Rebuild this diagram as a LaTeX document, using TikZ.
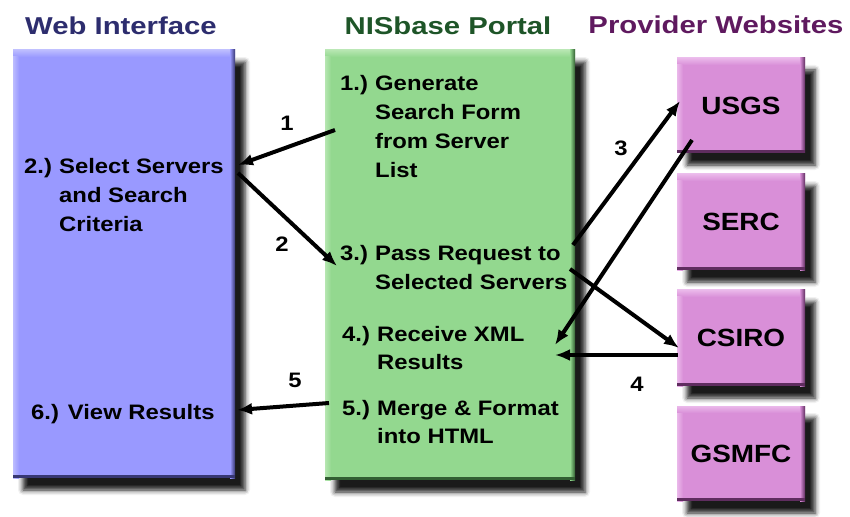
\documentclass[tikz,border=0pt]{standalone}
\usepackage{fontspec}
\setmainfont{Liberation Sans}
\newfontfamily\bodyfont[FakeStretch=1.14]{Liberation Sans Bold}
\newfontfamily\titlefont[FakeStretch=1.2]{Liberation Sans Bold}
\newfontfamily\pinkfont[FakeStretch=1.12]{Liberation Sans Bold}
\usetikzlibrary{arrows.meta,shadows.blur,calc}
\definecolor{blueF}{RGB}{153,153,255}
\definecolor{blueL}{RGB}{188,188,255}
\definecolor{blueD}{RGB}{55,55,115}
\definecolor{greenF}{RGB}{147,216,143}
\definecolor{greenL}{RGB}{182,230,177}
\definecolor{greenD}{RGB}{50,95,50}
\definecolor{pinkF}{RGB}{217,143,216}
\definecolor{pinkL}{RGB}{234,184,234}
\definecolor{pinkD}{RGB}{95,45,95}
\definecolor{webC}{RGB}{45,45,110}
\definecolor{nisC}{RGB}{30,85,40}
\definecolor{provC}{RGB}{95,25,95}
\newcommand\bevelbox[4]{%
  \shade[top color=#3, bottom color=#2] (#1.north west) rectangle ($(#1.north east)+(0,7)$);
  \shade[left color=#3, right color=#2] ($(#1.north west)+(0,7)$) rectangle ($(#1.south west)+(6,0)$);
  \shade[left color=#2, right color=#4] ($(#1.north east)+(-5,0)$) rectangle (#1.south east);
  \fill[#4] ($(#1.south west)+(0,-3)$) rectangle (#1.south east);}
\tikzset{
  box/.style={anchor=north west, inner sep=0pt, outer sep=0pt,
    blur shadow={shadow xshift=10bp, shadow yshift=-12bp, shadow blur radius=5bp, shadow opacity=90}},
  title/.style={anchor=base, inner sep=0pt, font=\titlefont\fontsize{24.5}{28}\selectfont},
  txt/.style={anchor=base west, inner sep=0pt, font=\bodyfont\fontsize{21}{29}\selectfont},
  num/.style={anchor=base, inner sep=0pt, font=\bodyfont\fontsize{21}{25}\selectfont},
  pinklbl/.style={font=\pinkfont\fontsize{25}{28}\selectfont},
  arr/.style={line width=4bp, -{Latex[length=15bp,width=12bp]}}
}
\newcommand\hang[2]{\begin{tabular}[t]{@{}l@{}l@{}}\makebox[35bp][l]{#1}&#2\end{tabular}}
\begin{document}
\begin{tikzpicture}[x=1bp,y=-1bp]
\useasboundingbox (0,0) rectangle (850,517);
% titles
\node[title, text=webC] (tweb) at (121,35) {Web Interface};
\node[title, text=nisC] (tnis) at (448,35) {NISbase Portal};
\node[title, text=provC] (tprov) at (716,34) {Provider Websites};
% boxes
\node[box, fill=blueF, minimum width=222bp, minimum height=428bp] (web) at (13,50) {};
\node[box, fill=greenF, minimum width=250bp, minimum height=430bp] (nis) at (325,50) {};
\node[box, fill=pinkF, minimum width=128bp, minimum height=95bp, pinklbl] (usgs) at (677,58) {USGS};
\node[box, fill=pinkF, minimum width=128bp, minimum height=96bp, pinklbl] (serc) at (677,174) {SERC};
\node[box, fill=pinkF, minimum width=128bp, minimum height=96bp, pinklbl] (csiro) at (677,290) {CSIRO};
\node[box, fill=pinkF, minimum width=128bp, minimum height=95bp, pinklbl] (gsmfc) at (677,406) {GSMFC};
\bevelbox{web}{blueF}{blueL}{blueD}
\bevelbox{nis}{greenF}{greenL}{greenD}
\bevelbox{usgs}{pinkF}{pinkL}{pinkD}
\bevelbox{serc}{pinkF}{pinkL}{pinkD}
\bevelbox{csiro}{pinkF}{pinkL}{pinkD}
\bevelbox{gsmfc}{pinkF}{pinkL}{pinkD}
% texts
\node[txt] (t2) at (24,174) {\hang{2.)}{Select Servers\\&and Search\\&Criteria}};
\node[txt] (t6) at (31,419) {6.) View Results};
\node[txt] (t1) at (340,91) {\hang{1.)}{Generate\\&Search Form\\&from Server\\&List}};
\node[txt] (t3) at (340,261) {\hang{3.)}{Pass Request to\\&Selected Servers}};
\node[txt] (t4) at (342,341) {\hang{4.)}{Receive XML\\&Results}};
\node[txt] (t5) at (342,415) {\hang{5.)}{Merge \& Format\\&into HTML}};
% arrow labels
\node[num] (n1) at (287,131) {1};
\node[num] (n2) at (282,252) {2};
\node[num] (n3) at (621,156) {3};
\node[num] (n4) at (637,391) {4};
\node[num] (n5) at (295,387) {5};
% arrow end points
\coordinate (a1s) at (335,130);
\coordinate (a1e) at (238,165);
\coordinate (a2s) at (238,173);
\coordinate (a2e) at (337,266);
\coordinate (a3s) at (573,245);
\coordinate (a3e) at (680,101);
\coordinate (a3bs) at (570,269);
\coordinate (a3be) at (679,348);
\coordinate (rus) at (692,140);
\coordinate (rue) at (555,345);
\coordinate (a4s) at (678,355);
\coordinate (a4e) at (555,355);
\coordinate (a5s) at (329,403);
\coordinate (a5e) at (237,410);
\draw[arr] (a1s) -- (a1e);
\draw[arr] (a2s) -- (a2e);
\draw[arr] (a3s) -- (a3e);
\draw[arr] (a3bs) -- (a3be);
\draw[arr] (rus) -- (rue);
\draw[arr] (a4s) -- (a4e);
\draw[arr] (a5s) -- (a5e);
\end{tikzpicture}
\end{document}
